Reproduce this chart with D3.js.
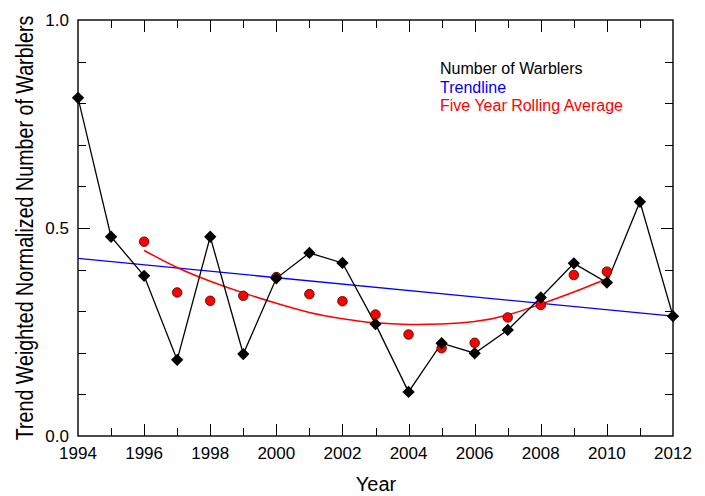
<!DOCTYPE html>
<html>
<head>
<meta charset="utf-8">
<script src="https://cdn.jsdelivr.net/npm/d3@7"></script>
<style>
  html, body { margin: 0; padding: 0; background: #fff; }
  svg { display: block; }
  text { font-family: "Liberation Sans", Arial, sans-serif; }
</style>
</head>
<body>
<svg id="chart" width="705" height="496"></svg>
<script>
// ---- data ----
const years = [1994, 1995, 1996, 1997, 1998, 1999, 2000, 2001, 2002, 2003,
               2004, 2005, 2006, 2007, 2008, 2009, 2010, 2011, 2012];
const warblers = [0.813, 0.479, 0.385, 0.183, 0.479, 0.197, 0.379, 0.440, 0.416, 0.269,
                  0.106, 0.223, 0.199, 0.255, 0.333, 0.415, 0.369, 0.563, 0.288];

const avgYears = [1996, 1997, 1998, 1999, 2000, 2001, 2002, 2003,
                  2004, 2005, 2006, 2007, 2008, 2009, 2010];
const rollingAvg = [0.467, 0.345, 0.325, 0.337, 0.382, 0.341, 0.324, 0.292,
                    0.244, 0.211, 0.224, 0.285, 0.315, 0.387, 0.395];
const avgCurve = [0.446, 0.405, 0.372, 0.344, 0.319, 0.297, 0.282, 0.272,
                  0.268, 0.269, 0.275, 0.291, 0.317, 0.346, 0.378];

const trendYears = [1994, 2012];
const trendValues = [0.427, 0.288];

const xTickLabels = ["1994", "1996", "1998", "2000", "2002", "2004", "2006", "2008", "2010", "2012"];
const yTickLabels = ["0.0", "0.5", "1.0"];

const legendLabels = ["Number of Warblers", "Trendline", "Five Year Rolling Average"];
const legendColors = ["#000000", "#0000ff", "#ff0000"];

// ---- layout ----
const svg = d3.select("#chart");
const L = 78, R = 673, T = 20, B = 436;
const x = d3.scaleLinear().domain([1994, 2012]).range([L, R]);
const y = d3.scaleLinear().domain([0, 1]).range([B, T]);

const majorLen = 12, minorLen = 8;

// clip for data
svg.append("defs").append("clipPath").attr("id", "clip")
  .append("rect").attr("x", L).attr("y", T).attr("width", R - L).attr("height", B - T);

// ticks
const g = svg.append("g").attr("stroke", "#000").attr("stroke-width", 1);
const xMinor = d3.range(1995, 2012, 1);
const xMajor = xTickLabels.map(Number);
xMinor.forEach(v => {
  const len = xMajor.includes(v) ? majorLen : minorLen;
  const px = Math.round(x(v)) + 0.5;
  g.append("line").attr("x1", px).attr("x2", px).attr("y1", B).attr("y2", B - len);
  g.append("line").attr("x1", px).attr("x2", px).attr("y1", T).attr("y2", T + len);
});
const yMinor = d3.range(1, 10).map(i => i / 10);
yMinor.forEach(v => {
  const len = Math.abs(v - 0.5) < 1e-9 ? majorLen : minorLen;
  const py = Math.round(y(v)) + 0.5;
  g.append("line").attr("x1", L).attr("x2", L + len).attr("y1", py).attr("y2", py);
  g.append("line").attr("x1", R).attr("x2", R - len).attr("y1", py).attr("y2", py);
});

// frame
svg.append("rect").attr("x", L).attr("y", T).attr("width", R - L).attr("height", B - T)
  .attr("fill", "none").attr("stroke", "#000").attr("stroke-width", 1.4);

// tick labels
svg.append("g").selectAll("text").data(xTickLabels).join("text")
  .attr("x", d => x(+d)).attr("y", 459)
  .attr("text-anchor", "middle").attr("font-size", 17).attr("fill", "#000")
  .text(d => d);
svg.append("g").selectAll("text").data(yTickLabels).join("text")
  .attr("x", 69).attr("y", d => y(+d) + 6.3)
  .attr("text-anchor", "end").attr("font-size", 17).attr("fill", "#000")
  .text(d => d);

// axis titles
svg.append("text")
  .attr("transform", "translate(376,491)")
  .attr("text-anchor", "middle").attr("font-size", 20).attr("fill", "#000")
  .text("Year");
svg.append("text")
  .attr("transform", "translate(32.5,228) rotate(-90) scale(0.82,1)")
  .attr("text-anchor", "middle").attr("font-size", 24).attr("fill", "#000")
  .text("Trend Weighted Normalized Number of Warblers");

// data layers
const data = svg.append("g").attr("clip-path", "url(#clip)");

// trendline
data.append("path")
  .datum(trendYears.map((yr, i) => [yr, trendValues[i]]))
  .attr("fill", "none").attr("stroke", "#0000ff").attr("stroke-width", 1.3)
  .attr("d", d3.line().x(d => x(d[0])).y(d => y(d[1])));

// rolling average fit curve
data.append("path")
  .datum(avgYears.map((yr, i) => [yr, avgCurve[i]]))
  .attr("fill", "none").attr("stroke", "#ff0000").attr("stroke-width", 1.5)
  .attr("d", d3.line().curve(d3.curveNatural).x(d => x(d[0])).y(d => y(d[1])));

// warblers line
data.append("path")
  .datum(years.map((yr, i) => [yr, warblers[i]]))
  .attr("fill", "none").attr("stroke", "#000").attr("stroke-width", 1.3)
  .attr("d", d3.line().x(d => x(d[0])).y(d => y(d[1])));

// rolling average points
svg.append("g").selectAll("circle").data(avgYears.map((yr, i) => [yr, rollingAvg[i]])).join("circle")
  .attr("cx", d => x(d[0])).attr("cy", d => y(d[1])).attr("r", 4.8)
  .attr("fill", "#ff0000").attr("stroke", "#400000").attr("stroke-width", 0.8);

// diamonds
const diamond = d3.symbol().type(d3.symbolSquare).size(76);
svg.append("g").selectAll("path").data(years.map((yr, i) => [yr, warblers[i]])).join("path")
  .attr("transform", d => `translate(${x(d[0])},${y(d[1])}) rotate(45)`)
  .attr("d", diamond())
  .attr("fill", "#000");

// legend
svg.append("g").selectAll("text").data(legendLabels).join("text")
  .attr("x", 440).attr("y", (d, i) => 74.3 + i * 18.2)
  .attr("font-size", 16).attr("fill", (d, i) => legendColors[i])
  .text(d => d);
</script>
</body>
</html>
